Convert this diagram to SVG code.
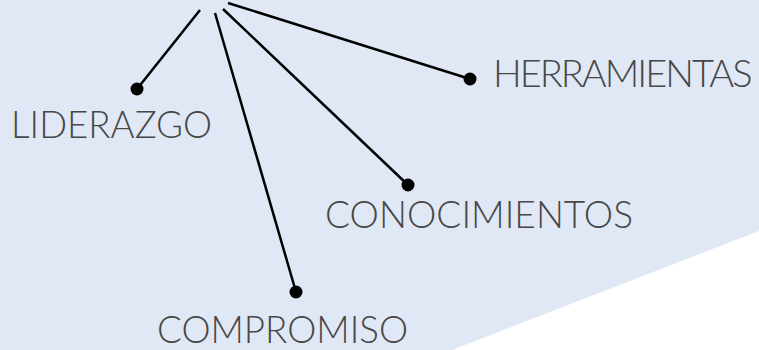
<svg xmlns="http://www.w3.org/2000/svg" width="759" height="350" viewBox="0 0 759 350">
<style>
.lbl{font-family:Lato,"Liberation Sans",sans-serif;font-size:38px;font-weight:300;fill:#474747}
.ln{stroke:#000;stroke-width:2.5;fill:none}
.dot{fill:#000}
</style>
<rect width="759" height="350" fill="#e0e8f5"/>
<polygon points="759,231 759,350 452,350" fill="#ffffff"/>
<g id="connectors">
<line class="ln" x1="200" y1="10" x2="137" y2="89"/>
<line class="ln" x1="215" y1="13" x2="296" y2="292"/>
<line class="ln" x1="223" y1="9" x2="408" y2="185"/>
<line class="ln" x1="228" y1="3" x2="470" y2="79"/>
</g>
<g id="liderazgo">
<circle class="dot" cx="137" cy="89" r="6.5"/>
<text class="lbl" x="11" y="138" textLength="201" lengthAdjust="spacingAndGlyphs">LIDERAZGO</text>
</g>
<g id="herramientas">
<circle class="dot" cx="470" cy="79" r="6.5"/>
<text class="lbl" x="493" y="87" style="letter-spacing:-2px">HERRAMIENTAS</text>
</g>
<g id="conocimientos">
<circle class="dot" cx="408" cy="185" r="6.5"/>
<text class="lbl" x="325" y="228" textLength="308" lengthAdjust="spacingAndGlyphs">CONOCIMIENTOS</text>
</g>
<g id="compromiso">
<circle class="dot" cx="296" cy="292" r="6.5"/>
<text class="lbl" x="157" y="343" textLength="251" lengthAdjust="spacingAndGlyphs">COMPROMISO</text>
</g>
</svg>
